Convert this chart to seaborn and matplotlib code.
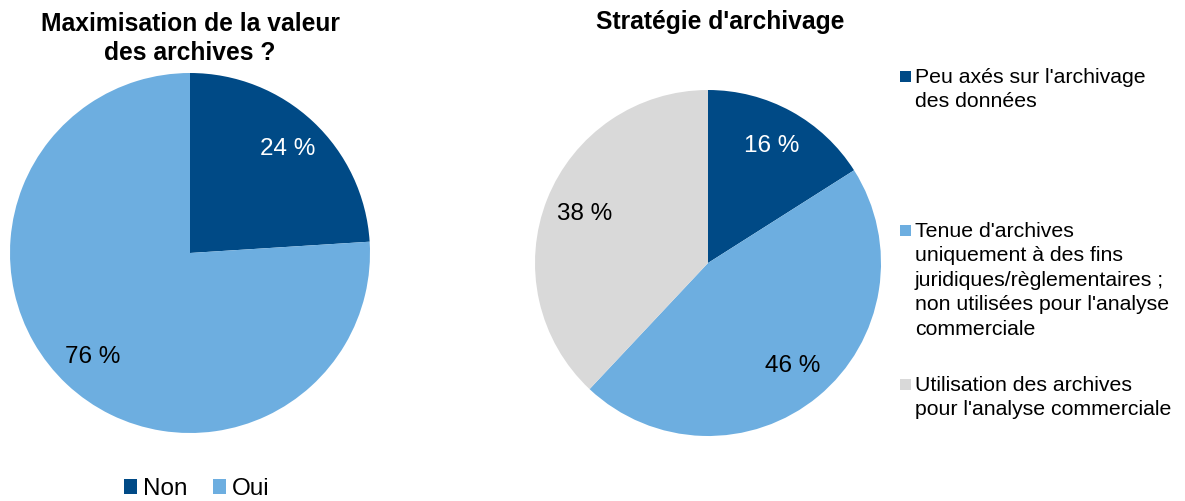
import matplotlib
matplotlib.use("Agg")
import matplotlib.pyplot as plt
from matplotlib.patches import Rectangle
import seaborn as sns

sns.set_theme(style="white")
plt.rcParams['font.family'] = ['Liberation Sans', 'DejaVu Sans']
plt.rcParams['text.color'] = 'black'

# Data
left_title = "Maximisation de la valeur\ndes archives ?"
left_labels = ["Non", "Oui"]
left_values = [24, 76]

right_title = "Stratégie d'archivage"
right_labels = [
    "Peu axés sur l'archivage\ndes données",
    "Tenue d'archives\nuniquement à des fins\njuridiques/règlementaires ;\nnon utilisées pour l'analyse\ncommerciale",
    "Utilisation des archives\npour l'analyse commerciale",
]
right_values = [16, 46, 38]

palette = sns.color_palette(["#004A86", "#6DAEE0", "#D9D9D9"])
left_colors = palette[:2]
right_colors = palette[:3]
left_text_colors = ["white", "black"]
right_text_colors = ["white", "black", "black"]

W, H = 1185, 501
fig = plt.figure(figsize=(W / 100, H / 100), dpi=100)


def px_axes(cx, cy, r):
    return fig.add_axes([(cx - r) / W, 1 - (cy + r) / H, 2 * r / W, 2 * r / H])


def draw_pie(ax, values, colors, text_colors, pctdist):
    wedges, _, autotexts = ax.pie(
        values, colors=colors, startangle=90, counterclock=False,
        autopct=lambda p: f"{p:.0f} %", pctdistance=pctdist,
        wedgeprops=dict(linewidth=0), textprops=dict(fontsize=17.5),
        radius=1.0)
    for t, c in zip(autotexts, text_colors):
        t.set_color(c)
    ax.set_xlim(-1, 1)
    ax.set_ylim(-1, 1)
    ax.set_aspect("equal")
    ax.axis("off")
    return wedges


ax_l = px_axes(190, 253, 180)
wl = draw_pie(ax_l, left_values, left_colors, left_text_colors, 0.79)

ax_r = px_axes(708, 263, 173)
wr = draw_pie(ax_r, right_values, right_colors, right_text_colors, 0.77)

# Titles
fig.text(190 / W, 1 - 12 / H, left_title, ha="center", va="top",
         fontsize=17.7, fontweight="bold", linespacing=1.25)
fig.text(720 / W, 1 - 10 / H, right_title, ha="center", va="top",
         fontsize=17.7, fontweight="bold")

# Bottom legend for the left pie
fig.legend(wl, left_labels, loc="center", bbox_to_anchor=(197 / W, 1 - 489 / H),
           ncol=2, frameon=False, fontsize=17.5, handlelength=0.53,
           handleheight=0.53, handletextpad=0.25, columnspacing=1.05,
           borderpad=0, borderaxespad=0)

# Side legend for the right pie: one entry every 154 px
for i, (lab, col) in enumerate(zip(right_labels, right_colors)):
    ytop = 68 + 154 * i
    fig.text(915 / W, 1 - ytop / H, lab, ha="left", va="top",
             fontsize=15.3, linespacing=1.36)
    fig.patches.append(Rectangle((900 / W, 1 - (ytop + 14) / H), 11 / W, 11 / H,
                                 transform=fig.transFigure, facecolor=col,
                                 edgecolor="none"))

fig.savefig("out.png", dpi=100)
